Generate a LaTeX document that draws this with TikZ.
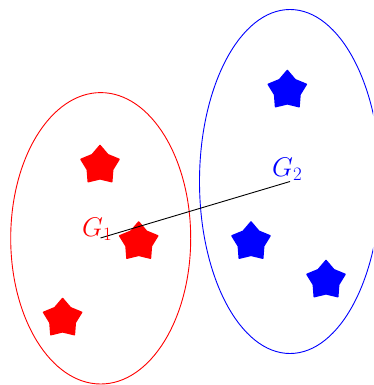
\RequirePackage{fix-cm}
\documentclass[tikz,border=0pt]{standalone}
\usetikzlibrary{shapes.geometric}
\begin{document}
\begin{tikzpicture}[x=1pt,y=-1pt,
  starmark/.style={star, star points=5, star point ratio=1.5, minimum size=40pt, inner sep=0pt,
    fill=#1, draw=#1, line width=1.5pt, line join=round},
  glabel/.style={text=#1, anchor=base west, inner sep=0pt, font=\fontsize{27}{32}\selectfont},
  hull/.style={draw=#1, line width=0.9pt}]
\clip (0,0) rectangle (373,385);
\useasboundingbox (0,0) rectangle (373,385);
% ellipses
\draw[hull=red] (100.7,238.3) ellipse [x radius=90, y radius=145.7];
\draw[hull=blue] (290,181.5) ellipse [x radius=90.5, y radius=172];
% centre points
\coordinate (c1) at (100.5,238);
\coordinate (c2) at (290,181.5);
% stars
\node[starmark=red] (r1) at (100,165.5) {};
\node[starmark=red] (r2) at (138.7,242) {};
\node[starmark=red] (r3) at (62.6,318.5) {};
\node[starmark=blue] (b1) at (287.3,90.5) {};
\node[starmark=blue] (b2) at (251,242) {};
\node[starmark=blue] (b3) at (326,280.5) {};
% connector
\draw[line width=0.9pt] (c1) -- (c2);
% labels
\node[glabel=red] (g1) at (82,236.5) {$G_1$};
\node[glabel=blue] (g2) at (272,176.5) {$G_2$};
\end{tikzpicture}
\end{document}
